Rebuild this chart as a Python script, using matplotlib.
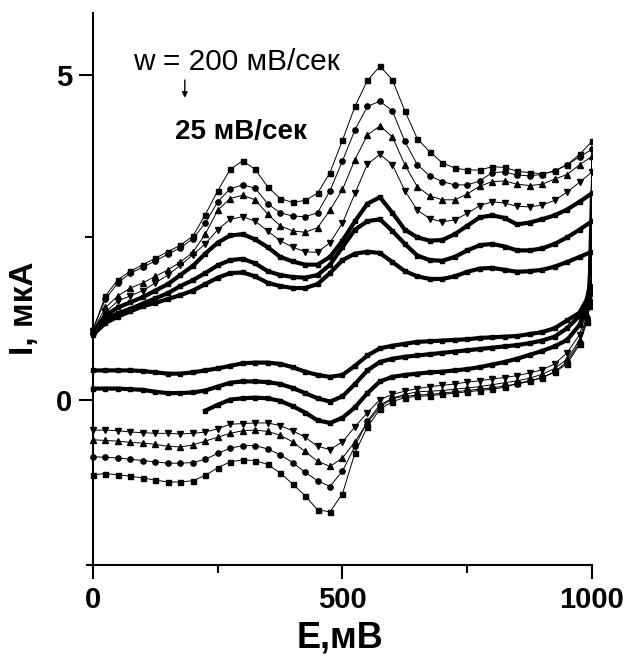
import matplotlib
matplotlib.use("Agg")
import matplotlib.pyplot as plt
import numpy as np

plt.rcParams['font.family'] = ['Liberation Sans', 'DejaVu Sans']

# potential grids (mV)
E_fwd = [0, 25, 50, 75, 100, 125, 150, 175, 200, 225, 250, 275, 300, 325, 350,
         375, 400, 425, 450, 475, 500, 525, 550, 575, 600, 625, 650, 675, 700,
         725, 750, 775, 800, 825, 850, 875, 900, 925, 950, 975, 1000]
E_rev = [995, 990, 975, 950, 925, 900, 875, 850, 825, 800, 775, 750, 725, 700,
         675, 650, 625, 600, 575, 550, 525, 500, 475, 450, 425, 400, 375, 350,
         325, 300, 275, 250, 225, 200, 175, 150, 125, 100, 75, 50, 25, 0]

# anodic (forward) branches, current in uA
fwd_200 = [1.08, 1.60, 1.85, 1.98, 2.08, 2.18, 2.28, 2.38, 2.52, 2.85, 3.22, 3.55, 3.68, 3.55,
           3.28, 3.10, 3.04, 3.07, 3.18, 3.50, 4.00, 4.52, 4.92, 5.14, 4.93, 4.45, 4.02, 3.82,
           3.65, 3.57, 3.54, 3.54, 3.59, 3.58, 3.52, 3.50, 3.48, 3.52, 3.62, 3.78, 3.98]
fwd_175 = [1.08, 1.55, 1.80, 1.95, 2.04, 2.14, 2.24, 2.34, 2.48, 2.72, 3.05, 3.25, 3.31, 3.26,
           3.02, 2.88, 2.83, 2.82, 2.88, 3.22, 3.68, 4.16, 4.52, 4.60, 4.45, 3.98, 3.62, 3.45,
           3.36, 3.31, 3.31, 3.37, 3.50, 3.51, 3.46, 3.45, 3.47, 3.53, 3.62, 3.74, 3.86]
fwd_150 = [1.06, 1.42, 1.60, 1.72, 1.80, 1.90, 2.00, 2.12, 2.27, 2.55, 2.92, 3.10, 3.15, 3.08,
           2.86, 2.68, 2.60, 2.58, 2.65, 2.92, 3.24, 3.70, 4.08, 4.22, 4.05, 3.62, 3.28, 3.14,
           3.08, 3.08, 3.17, 3.29, 3.36, 3.37, 3.32, 3.30, 3.32, 3.40, 3.47, 3.62, 3.75]
fwd_125 = [1.05, 1.35, 1.52, 1.60, 1.68, 1.80, 1.92, 2.07, 2.23, 2.40, 2.62, 2.78, 2.82, 2.75,
           2.60, 2.45, 2.35, 2.28, 2.27, 2.42, 2.72, 3.18, 3.63, 3.78, 3.62, 3.22, 2.92, 2.79,
           2.74, 2.77, 2.87, 2.99, 3.05, 3.03, 2.98, 2.97, 3.00, 3.07, 3.20, 3.35, 3.51]
fwd_100 = [1.03, 1.30, 1.42, 1.50, 1.58, 1.68, 1.78, 1.92, 2.06, 2.25, 2.42, 2.53, 2.55, 2.47,
           2.35, 2.20, 2.13, 2.08, 2.08, 2.20, 2.45, 2.75, 3.02, 3.12, 2.88, 2.62, 2.50, 2.45,
           2.46, 2.55, 2.68, 2.81, 2.84, 2.80, 2.70, 2.73, 2.78, 2.84, 2.93, 3.05, 3.18]
fwd_50 = [1.02, 1.25, 1.33, 1.40, 1.48, 1.56, 1.64, 1.75, 1.84, 1.95, 2.07, 2.15, 2.17, 2.10,
          1.98, 1.92, 1.89, 1.88, 1.92, 2.08, 2.35, 2.62, 2.75, 2.78, 2.60, 2.40, 2.22, 2.15,
          2.14, 2.20, 2.30, 2.38, 2.40, 2.36, 2.30, 2.30, 2.33, 2.40, 2.50, 2.62, 2.75]
fwd_25 = [1.00, 1.18, 1.28, 1.36, 1.44, 1.49, 1.55, 1.61, 1.68, 1.78, 1.88, 1.95, 1.96, 1.90,
          1.80, 1.75, 1.72, 1.72, 1.78, 1.95, 2.15, 2.25, 2.28, 2.26, 2.12, 1.98, 1.90, 1.86,
          1.86, 1.90, 1.97, 2.02, 2.03, 2.00, 1.97, 1.98, 2.00, 2.05, 2.12, 2.20, 2.28]

# cathodic (reverse) branches, current in uA
rev_200 = [1.45, 1.20, 0.85, 0.55, 0.42, 0.34, 0.29, 0.25, 0.19, 0.16, 0.14, 0.12, 0.10, 0.08,
           0.06, 0.05, 0.03, -0.03, -0.15, -0.42, -0.82, -1.45, -1.73, -1.70, -1.48, -1.30,
           -1.13, -1.00, -0.94, -0.93, -0.96, -1.05, -1.17, -1.25, -1.27, -1.27, -1.24, -1.21,
           -1.18, -1.16, -1.14, -1.16]
rev_175 = [1.50, 1.25, 0.88, 0.58, 0.43, 0.34, 0.28, 0.24, 0.21, 0.18, 0.16, 0.14, 0.12, 0.10,
           0.08, 0.07, 0.05, 0.02, -0.08, -0.33, -0.72, -1.10, -1.34, -1.25, -1.12, -0.97,
           -0.85, -0.76, -0.71, -0.71, -0.75, -0.83, -0.92, -0.97, -0.98, -0.98, -0.96, -0.94,
           -0.92, -0.90, -0.89, -0.88]
rev_150 = [1.55, 1.30, 0.92, 0.62, 0.48, 0.39, 0.33, 0.29, 0.26, 0.23, 0.20, 0.18, 0.16, 0.14,
           0.13, 0.12, 0.08, 0.02, -0.12, -0.35, -0.65, -0.90, -1.03, -0.95, -0.80, -0.65,
           -0.55, -0.49, -0.47, -0.48, -0.52, -0.58, -0.64, -0.70, -0.73, -0.72, -0.69, -0.67,
           -0.66, -0.64, -0.63, -0.62]
rev_125 = [1.60, 1.38, 1.00, 0.72, 0.55, 0.46, 0.41, 0.37, 0.34, 0.32, 0.29, 0.27, 0.24, 0.22,
           0.20, 0.17, 0.13, 0.08, 0.00, -0.20, -0.42, -0.65, -0.77, -0.72, -0.58, -0.48,
           -0.40, -0.36, -0.36, -0.37, -0.38, -0.45, -0.50, -0.52, -0.53, -0.52, -0.52, -0.51,
           -0.50, -0.48, -0.47, -0.47]
rev_100 = [1.65, 1.45, 1.15, 0.92, 0.82, 0.75, 0.69, 0.63, 0.58, 0.54, 0.50, 0.47, 0.45, 0.43,
           0.42, 0.40, 0.38, 0.35, 0.28, 0.10, -0.12, -0.28, -0.36, -0.32, -0.20, -0.10,
           -0.02, 0.02, 0.03, 0.02, 0.00, -0.08, -0.17, np.nan, np.nan, np.nan, np.nan, np.nan,
           np.nan, np.nan, np.nan, np.nan]
rev_50 = [1.70, 1.50, 1.29, 1.10, 0.97, 0.91, 0.87, 0.84, 0.82, 0.80, 0.78, 0.76, 0.74, 0.72,
          0.70, 0.68, 0.66, 0.63, 0.58, 0.45, 0.24, 0.05, -0.03, 0.02, 0.10, 0.18, 0.24, 0.27,
          0.28, 0.28, 0.26, 0.20, 0.14, 0.11, 0.10, 0.10, 0.12, 0.15, 0.16, 0.17, 0.17, 0.17]
rev_25 = [1.75, 1.55, 1.34, 1.22, 1.10, 1.04, 1.01, 0.98, 0.97, 0.96, 0.95, 0.93, 0.92, 0.91,
          0.90, 0.89, 0.86, 0.83, 0.79, 0.68, 0.52, 0.38, 0.35, 0.38, 0.43, 0.50, 0.55, 0.57,
          0.57, 0.56, 0.52, 0.48, 0.45, 0.42, 0.40, 0.40, 0.42, 0.44, 0.45, 0.45, 0.45, 0.45]

curves = [
    (fwd_200, rev_200, dict(marker='s', ms=3.6, lw=0.7)),
    (fwd_175, rev_175, dict(marker='o', ms=3.8, lw=0.7)),
    (fwd_150, rev_150, dict(marker='^', ms=4.2, lw=0.7)),
    (fwd_125, rev_125, dict(marker='v', ms=4.2, lw=0.7)),
    (fwd_100, rev_100, dict(marker='s', ms=3.5, lw=3.0)),
    (fwd_50, rev_50, dict(marker='s', ms=3.5, lw=3.0)),
    (fwd_25, rev_25, dict(marker='s', ms=3.5, lw=3.0)),
]

fig = plt.figure(figsize=(6.27, 6.66), dpi=100)
ax = fig.add_axes([87 / 627, (666 - 565) / 666, 505 / 627, (565 - 13) / 666])

for fwd, rev, st in curves:
    ax.plot(E_fwd + E_rev, fwd + rev, color='black', mfc='black', mec='black', **st)

ax.set_xlim(-12, 1000)
ax.set_ylim(-2.55, 5.96)

ax.spines['top'].set_visible(False)
ax.spines['right'].set_visible(False)
ax.spines['left'].set_position(('data', 0))
for s in ('left', 'bottom'):
    ax.spines[s].set_linewidth(1.5)

ax.set_xticks([0, 500, 1000])
ax.set_xticks([250, 750], minor=True)
ax.set_yticks([0, 5])
ax.set_yticks([2.5], minor=True)
ax.tick_params(which='major', direction='out', length=10, width=1.5)
ax.tick_params(which='minor', direction='out', length=6, width=1.5)
ax.tick_params(axis='x', pad=5)
ax.tick_params(axis='y', pad=5)
for lab in ax.get_xticklabels() + ax.get_yticklabels():
    lab.set_fontsize(21)
    lab.set_fontweight('bold')

ax.text(80, 5.2, 'w = 200 мВ/сек', fontsize=21.5, ha='left', va='center')
ax.annotate('', xy=(184, 4.61), xytext=(184, 4.97),
            arrowprops=dict(arrowstyle='-|>', lw=1.0, color='black', mutation_scale=8))
ax.text(164, 4.12, '25 мВ/сек', fontsize=20, fontweight='bold', ha='left', va='center')

fig.text(340 / 627, 1 - 638 / 666, 'E,мВ', fontsize=26, fontweight='bold',
         ha='center', va='center')
fig.text(24 / 627, 1 - 308 / 666, 'I, мкА', fontsize=24, fontweight='bold',
         ha='center', va='center', rotation=90)

fig.savefig('out.png', dpi=100)
